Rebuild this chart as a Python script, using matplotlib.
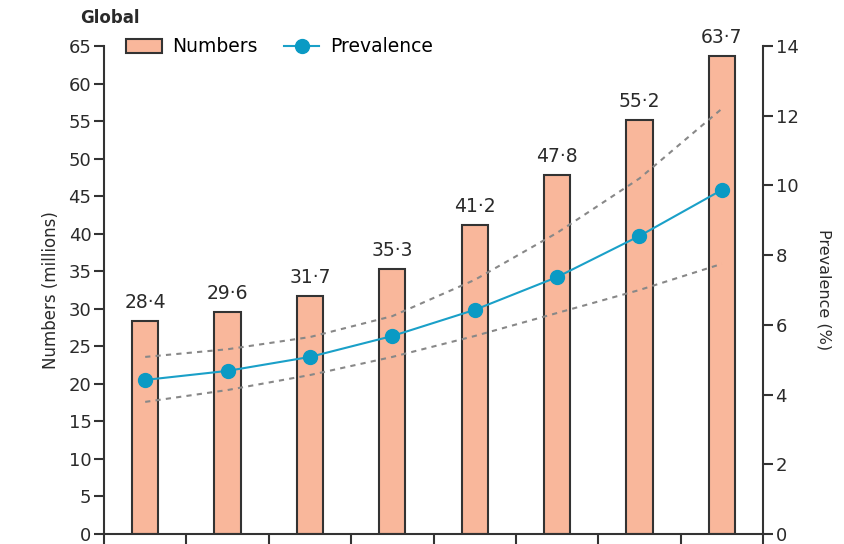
import matplotlib
matplotlib.use("Agg")
import matplotlib.pyplot as plt
import numpy as np
from matplotlib.lines import Line2D
from matplotlib.patches import Patch

plt.rcParams['font.family'] = ['DejaVu Sans']

numbers = [28.4, 29.6, 31.7, 35.3, 41.2, 47.8, 55.2, 63.7]
number_labels = ["28·4", "29·6", "31·7", "35·3", "41·2", "47·8", "55·2", "63·7"]
prevalence = [4.42, 4.68, 5.08, 5.68, 6.43, 7.37, 8.55, 9.87]
prev_upper = [5.08, 5.3, 5.65, 6.25, 7.29, 8.64, 10.2, 12.2]
prev_lower = [3.79, 4.13, 4.56, 5.08, 5.68, 6.34, 7.0, 7.75]
left_ticks = list(range(0, 70, 5))
right_ticks = list(range(0, 16, 2))

bar_color = "#F9B79B"
line_color = "#1AA0C8"
marker_color = "#0A9AC4"
text_color = "#2a2a2a"
edge = "#333333"
fs = 13

fig = plt.figure(figsize=(8.44, 5.44), dpi=100)
ax = fig.add_axes([104/844, 1 - 534/544, (763-104)/844, (534-46)/544])
x = np.arange(len(numbers))
ax.bar(x, numbers, width=0.32, color=bar_color, edgecolor=edge, linewidth=1.5, zorder=2)
for xi, v, lab in zip(x, numbers, number_labels):
    ax.text(xi, v + 1.2, lab, ha="center", va="bottom", fontsize=13.5, color=text_color)

ax.set_xlim(-0.5, len(numbers) - 0.5)
ax.set_ylim(0, 65)
ax.set_yticks(left_ticks)
ax.set_xticks(np.arange(-0.5, len(numbers) - 0.4, 1))
ax.set_xticklabels([])
ax.tick_params(axis="x", length=12, width=1.5, direction="out", color=edge)
ax.tick_params(axis="y", length=7, width=1.5, direction="out", color=edge,
               labelsize=fs, labelcolor=text_color, pad=2)
for s in ["top", "right"]:
    ax.spines[s].set_visible(False)
for s in ["left", "bottom"]:
    ax.spines[s].set_linewidth(1.5)
    ax.spines[s].set_color(edge)
ax.set_ylabel("Numbers (millions)", fontsize=12, color=text_color, labelpad=6)

ax2 = ax.twinx()
ax2.set_ylim(0, 14)
ax2.set_yticks(right_ticks)
ax2.plot(x, prevalence, color=line_color, lw=1.5, marker="o", markersize=10,
         markerfacecolor=marker_color, markeredgecolor=marker_color, zorder=3)
ax2.plot(x, prev_upper, color="#888888", lw=1.5, ls=(0, (2.5, 2.5)), zorder=3)
ax2.plot(x, prev_lower, color="#888888", lw=1.5, ls=(0, (2.5, 2.5)), zorder=3)
for s in ["top", "left", "bottom"]:
    ax2.spines[s].set_visible(False)
ax2.spines["right"].set_linewidth(1.5)
ax2.spines["right"].set_color(edge)
ax2.tick_params(axis="y", length=7, width=1.5, direction="out", color=edge,
                labelsize=fs, labelcolor=text_color, pad=2)
ax2.set_ylabel("Prevalence (%)", fontsize=11.5, color=text_color, rotation=270, labelpad=24)

fig.text(80/844, 1 - 18/544, "Global", fontsize=12, fontweight="bold", color=text_color,
         ha="left", va="center")

handles = [Patch(facecolor=bar_color, edgecolor=edge, linewidth=1.5),
           Line2D([0], [0], color=line_color, lw=1.5, marker="o", markersize=10,
                  markerfacecolor=marker_color, markeredgecolor=marker_color)]
fig.legend(handles, ["Numbers", "Prevalence"], loc="center left",
           bbox_to_anchor=(126/844, 1 - 47/544), ncol=2, frameon=False,
           fontsize=13.5, handlelength=1.9, handletextpad=0.55, columnspacing=1.4,
           borderaxespad=0, borderpad=0)

fig.savefig("out.png", dpi=100)
